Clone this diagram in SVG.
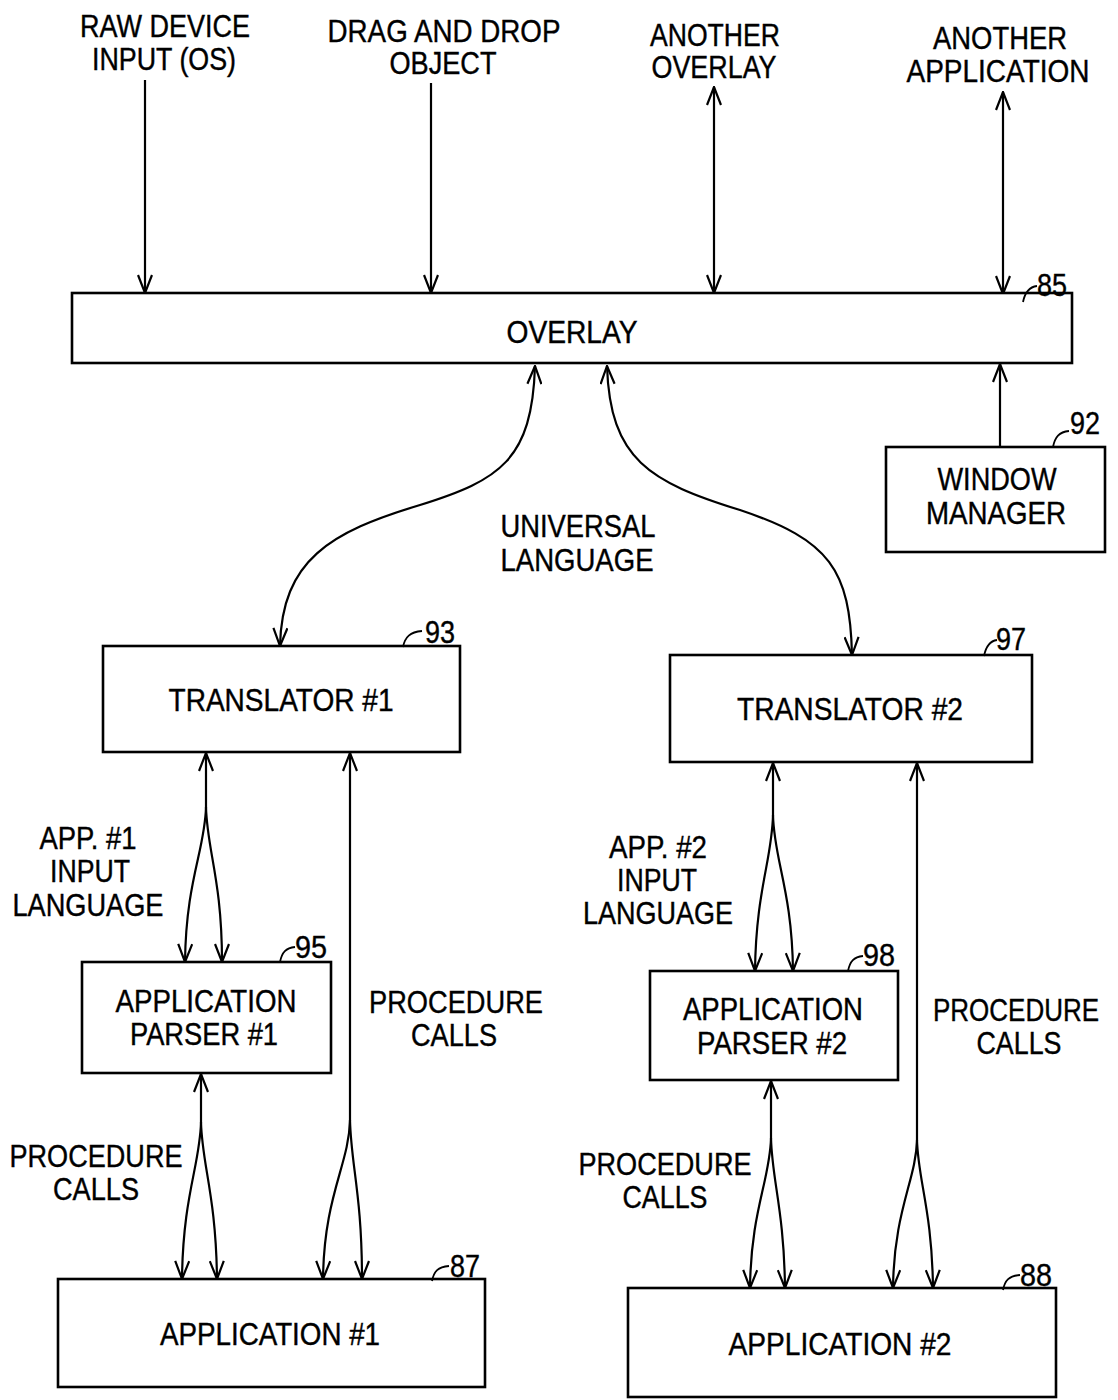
<svg xmlns="http://www.w3.org/2000/svg" width="1118" height="1400" viewBox="0 0 1118 1400">
<defs>
<marker id="ah" viewBox="0 0 20 16" refX="19" refY="8" markerWidth="20" markerHeight="16" markerUnits="userSpaceOnUse" orient="auto-start-reverse">
<path d="M1,1 L19,8 L1,15" fill="none" stroke="#000" stroke-width="2.2"/>
</marker>
</defs>
<style>
text{font-family:"Liberation Sans",Arial,sans-serif;font-size:31px;fill:#000;stroke:#000;stroke-width:0.4;text-anchor:middle}
.box{fill:#fff;stroke:#000;stroke-width:2.6}
.ln{fill:none;stroke:#000;stroke-width:2.2}
.a{marker-end:url(#ah)}
.s{marker-start:url(#ah)}
.lead{fill:none;stroke:#000;stroke-width:1.8}
</style>
<rect width="1118" height="1400" fill="#fff"/>

<g id="labels-top">
<text x="165" y="37" textLength="170" lengthAdjust="spacingAndGlyphs">RAW DEVICE</text>
<text x="164" y="70" textLength="144" lengthAdjust="spacingAndGlyphs">INPUT (OS)</text>
<text x="444" y="42" textLength="233" lengthAdjust="spacingAndGlyphs">DRAG AND DROP</text>
<text x="443" y="74" textLength="107" lengthAdjust="spacingAndGlyphs">OBJECT</text>
<text x="715" y="46" textLength="130" lengthAdjust="spacingAndGlyphs">ANOTHER</text>
<text x="714" y="78" textLength="125" lengthAdjust="spacingAndGlyphs">OVERLAY</text>
<text x="1000" y="49" textLength="134" lengthAdjust="spacingAndGlyphs">ANOTHER</text>
<text x="998" y="82" textLength="183" lengthAdjust="spacingAndGlyphs">APPLICATION</text>
</g>

<g id="connectors">
<path class="ln a" d="M145,80 L145,293"/>
<path class="ln a" d="M431,83 L431,293"/>
<path class="ln a s" d="M714,87 L714,293"/>
<path class="ln a s" d="M1003,92 L1003,294"/>
<path class="ln a" d="M1000,447 L1000,364"/>
<path class="ln a s" d="M535,366 C532,460 500,480 420,505 C330,532 282,560 280,646"/>
<path class="ln a s" d="M607,366 C610,460 650,482 740,510 C830,540 850,570 852,655"/>
<path class="ln s" d="M206,753 L206,807"/>
<path class="ln a" d="M206,807 C205,850 186,880 185,962"/>
<path class="ln a" d="M206,807 C207,850 222,880 222,962"/>
<path class="ln s" d="M350,753 L350,1120"/>
<path class="ln a" d="M350,1120 C349,1165 324,1195 323,1279"/>
<path class="ln a" d="M350,1120 C351,1165 362,1195 362,1279"/>
<path class="ln s" d="M201,1074 L201,1122"/>
<path class="ln a" d="M201,1122 C200,1165 183,1195 182,1279"/>
<path class="ln a" d="M201,1122 C202,1165 216,1195 217,1279"/>
<path class="ln s" d="M773,763 L773,815"/>
<path class="ln a" d="M773,815 C772,860 756,890 755,971"/>
<path class="ln a" d="M773,815 C774,860 792,890 793,971"/>
<path class="ln s" d="M917,763 L917,1140"/>
<path class="ln a" d="M917,1140 C916,1180 894,1210 893,1288"/>
<path class="ln a" d="M917,1140 C918,1180 932,1210 933,1288"/>
<path class="ln s" d="M771,1081 L771,1138"/>
<path class="ln a" d="M771,1138 C770,1180 751,1210 750,1288"/>
<path class="ln a" d="M771,1138 C772,1180 784,1210 785,1288"/>
</g>

<g id="overlay">
<rect class="box" x="72" y="293" width="1000" height="70"/>
<text x="572" y="343" textLength="131" lengthAdjust="spacingAndGlyphs">OVERLAY</text>
<path class="lead" d="M1023,302 C1025,292 1029,287 1037,286"/>
<text x="1052" y="296" textLength="30" lengthAdjust="spacingAndGlyphs">85</text>
</g>

<g id="window-manager">
<rect class="box" x="886" y="447" width="219" height="105"/>
<text x="997" y="490" textLength="119" lengthAdjust="spacingAndGlyphs">WINDOW</text>
<text x="996" y="524" textLength="140" lengthAdjust="spacingAndGlyphs">MANAGER</text>
<path class="lead" d="M1053,447 C1055,437 1059,432 1069,431"/>
<text x="1085" y="434" textLength="30" lengthAdjust="spacingAndGlyphs">92</text>
</g>

<g id="universal-label">
<text x="578" y="537" textLength="155" lengthAdjust="spacingAndGlyphs">UNIVERSAL</text>
<text x="577" y="571" textLength="153" lengthAdjust="spacingAndGlyphs">LANGUAGE</text>
</g>

<g id="translator1">
<rect class="box" x="103" y="646" width="357" height="106"/>
<text x="281" y="711" textLength="225" lengthAdjust="spacingAndGlyphs">TRANSLATOR #1</text>
<path class="lead" d="M403,647 C405,637 410,632 422,631"/>
<text x="440" y="643" textLength="30" lengthAdjust="spacingAndGlyphs">93</text>
</g>

<g id="translator2">
<rect class="box" x="670" y="655" width="362" height="107"/>
<text x="850" y="720" textLength="226" lengthAdjust="spacingAndGlyphs">TRANSLATOR #2</text>
<path class="lead" d="M984,656 C986,646 990,641 997,640"/>
<text x="1011" y="650" textLength="30" lengthAdjust="spacingAndGlyphs">97</text>
</g>

<g id="app1-input-label">
<text x="88" y="849" textLength="97" lengthAdjust="spacingAndGlyphs">APP. #1</text>
<text x="90" y="882" textLength="80" lengthAdjust="spacingAndGlyphs">INPUT</text>
<text x="88" y="916" textLength="151" lengthAdjust="spacingAndGlyphs">LANGUAGE</text>
</g>

<g id="parser1">
<rect class="box" x="82" y="962" width="249" height="111"/>
<text x="206" y="1012" textLength="181" lengthAdjust="spacingAndGlyphs">APPLICATION</text>
<text x="204" y="1045" textLength="148" lengthAdjust="spacingAndGlyphs">PARSER #1</text>
<path class="lead" d="M280,962 C282,952 286,948 295,947"/>
<text x="311" y="958" textLength="32" lengthAdjust="spacingAndGlyphs">95</text>
</g>

<g id="proc-calls-1">
<text x="456" y="1013" textLength="174" lengthAdjust="spacingAndGlyphs">PROCEDURE</text>
<text x="454" y="1046" textLength="86" lengthAdjust="spacingAndGlyphs">CALLS</text>
<text x="96" y="1167" textLength="173" lengthAdjust="spacingAndGlyphs">PROCEDURE</text>
<text x="96" y="1200" textLength="86" lengthAdjust="spacingAndGlyphs">CALLS</text>
</g>

<g id="app1">
<rect class="box" x="58" y="1279" width="427" height="108"/>
<text x="270" y="1345" textLength="220" lengthAdjust="spacingAndGlyphs">APPLICATION #1</text>
<path class="lead" d="M432,1281 C434,1271 438,1267 449,1266"/>
<text x="465" y="1277" textLength="30" lengthAdjust="spacingAndGlyphs">87</text>
</g>

<g id="app2-input-label">
<text x="658" y="858" textLength="98" lengthAdjust="spacingAndGlyphs">APP. #2</text>
<text x="657" y="891" textLength="80" lengthAdjust="spacingAndGlyphs">INPUT</text>
<text x="658" y="924" textLength="150" lengthAdjust="spacingAndGlyphs">LANGUAGE</text>
</g>

<g id="parser2">
<rect class="box" x="650" y="971" width="248" height="109"/>
<text x="773" y="1020" textLength="180" lengthAdjust="spacingAndGlyphs">APPLICATION</text>
<text x="772" y="1054" textLength="150" lengthAdjust="spacingAndGlyphs">PARSER #2</text>
<path class="lead" d="M848,971 C850,961 854,957 863,956"/>
<text x="879" y="966" textLength="32" lengthAdjust="spacingAndGlyphs">98</text>
</g>

<g id="proc-calls-2">
<text x="1016" y="1021" font-size="29" textLength="166" lengthAdjust="spacingAndGlyphs">PROCEDURE</text>
<text x="1019" y="1054" font-size="29" textLength="85" lengthAdjust="spacingAndGlyphs">CALLS</text>
<text x="665" y="1175" textLength="173" lengthAdjust="spacingAndGlyphs">PROCEDURE</text>
<text x="665" y="1208" textLength="85" lengthAdjust="spacingAndGlyphs">CALLS</text>
</g>

<g id="app2">
<rect class="box" x="628" y="1288" width="428" height="109"/>
<text x="840" y="1355" textLength="223" lengthAdjust="spacingAndGlyphs">APPLICATION #2</text>
<path class="lead" d="M1003,1290 C1005,1280 1009,1276 1020,1275"/>
<text x="1036" y="1286" textLength="32" lengthAdjust="spacingAndGlyphs">88</text>
</g>
</svg>
